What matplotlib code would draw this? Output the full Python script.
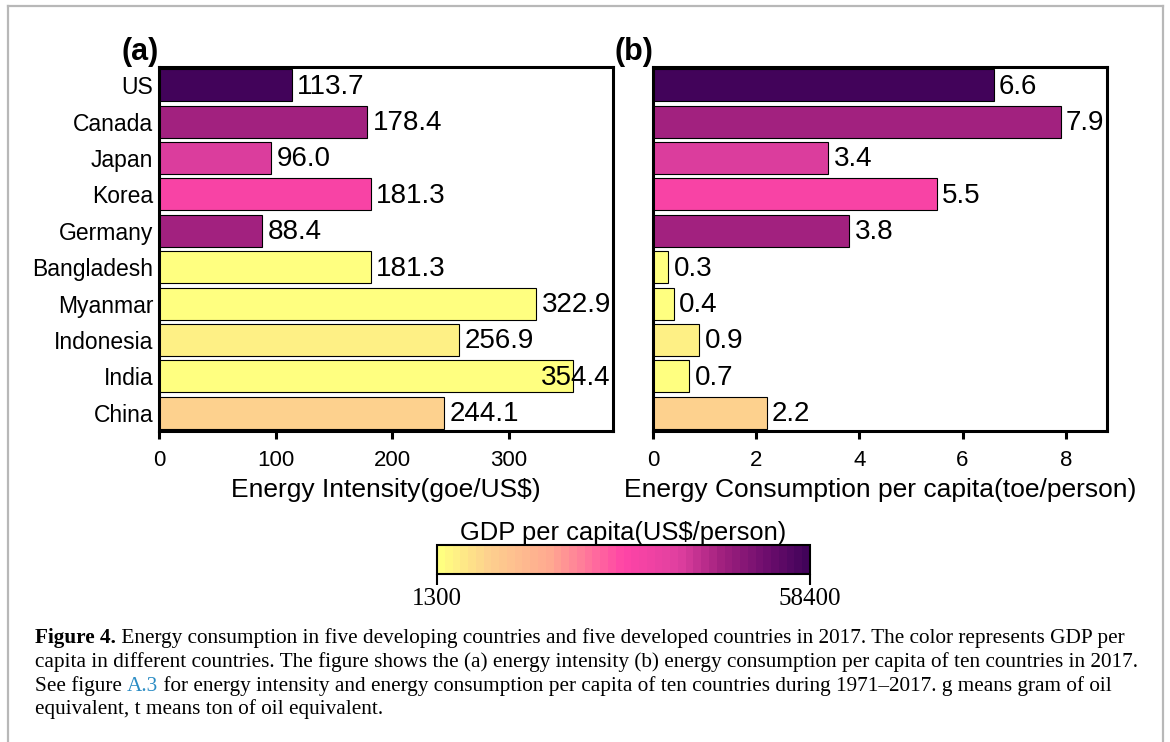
import numpy as np
import matplotlib
matplotlib.use('Agg')
import matplotlib.pyplot as plt
from matplotlib.colors import LinearSegmentedColormap, Normalize
from matplotlib.cm import ScalarMappable
from matplotlib.lines import Line2D

plt.rcParams['font.family'] = ['Liberation Sans', 'DejaVu Sans']

countries = ['US', 'Canada', 'Japan', 'Korea', 'Germany',
             'Bangladesh', 'Myanmar', 'Indonesia', 'India', 'China']
energy_intensity = [113.7, 178.4, 96.0, 181.3, 88.4, 181.3, 322.9, 256.9, 354.4, 244.1]
energy_per_capita = [6.6, 7.9, 3.4, 5.5, 3.8, 0.3, 0.4, 0.9, 0.7, 2.2]
# GDP per capita (US$/person), used for the bar colours
gdp_per_capita = [58400, 45100, 38400, 31600, 44500, 1560, 1300, 3840, 1980, 8800]
gdp_range = [1300, 58400]

cmap = LinearSegmentedColormap.from_list(
    'gdp', [(0.0, '#ffff80'), (0.13, '#fdd08e'), (0.3, '#ffa890'),
            (0.5, '#ff44a6'), (0.65, '#e040a0'), (0.77, '#a0207e'),
            (0.9, '#6a0c6c'), (1.0, '#42035a')], N=48)
norm = Normalize(gdp_range[0], gdp_range[1])
colors = cmap(norm(np.clip(gdp_per_capita, *gdp_range)))

W, H = 1170, 742
fig = plt.figure(figsize=(W / 100, H / 100), dpi=100)


def px_axes(x0, y0, x1, y1):
    return fig.add_axes([x0 / W, 1 - y1 / H, (x1 - x0) / W, (y1 - y0) / H])


ax_a = px_axes(159, 67, 613, 431)
ax_b = px_axes(653, 67, 1107, 431)

ypos = np.arange(len(countries))
for ax, vals, xmax, xticks, xlabel, tag in [
        (ax_a, energy_intensity, 389, [0, 100, 200, 300], 'Energy Intensity(goe/US$)', '(a)'),
        (ax_b, energy_per_capita, 8.8, [0, 2, 4, 6, 8], 'Energy Consumption per capita(toe/person)', '(b)')]:
    ax.barh(ypos, vals, height=0.88, color=colors, edgecolor='black', linewidth=0.8)
    for y, v in zip(ypos, vals):
        if v > 0.88 * xmax:
            # keep long labels inside the frame
            ax.annotate('%.1f' % v, xy=(xmax, y), xytext=(-2, -1), textcoords='offset points',
                        ha='right', va='center', fontsize=20)
        else:
            ax.annotate('%.1f' % v, xy=(v, y), xytext=(4, -1), textcoords='offset points',
                        ha='left', va='center', fontsize=20)
    ax.set_xlim(0, xmax)
    ax.set_ylim(len(countries) - 0.5, -0.5)
    ax.set_xticks(xticks)
    ax.set_yticks(ypos)
    ax.tick_params(axis='x', direction='out', length=6, width=2.2, labelsize=16, pad=8)
    ax.tick_params(axis='y', length=0, pad=4, labelsize=16.5)
    ax.set_xlabel(xlabel, fontsize=19, labelpad=5)
    for s in ax.spines.values():
        s.set_linewidth(2.2)
    ax.text(0, 1.0, tag, transform=ax.transAxes, ha='right', va='bottom',
            fontsize=22, fontweight='bold')

ax_a.set_yticklabels(countries)
ax_b.set_yticklabels([])

# colour bar for GDP per capita
cax = px_axes(437, 545, 810, 574)
cb = fig.colorbar(ScalarMappable(norm=norm, cmap=cmap), cax=cax, orientation='horizontal')
cb.set_ticks(gdp_range)
cb.set_ticklabels([str(v) for v in gdp_range])
cb.outline.set_linewidth(1.5)
cax.tick_params(length=8, width=1.5, pad=2)
for t in cax.get_xticklabels():
    t.set_fontfamily('Liberation Serif')
    t.set_fontsize(18)
cax.set_title('GDP per capita(US$/person)', fontsize=18.4, pad=1)

# page frame
frame = dict(color='#b8b8b8', lw=1.6, transform=fig.transFigure)
fig.add_artist(Line2D([8 / W, 1163 / W], [1 - 6 / H, 1 - 6 / H], **frame))
fig.add_artist(Line2D([8 / W, 8 / W], [0, 1 - 6 / H], **frame))
fig.add_artist(Line2D([1163 / W, 1163 / W], [0, 1 - 6 / H], **frame))

# caption
fs = 15.3
cap = dict(fontfamily='Liberation Serif', fontsize=fs, va='baseline', ha='left')
x0 = 35 / W
t1 = fig.text(x0, 1 - 643 / H, 'Figure 4.', fontweight='bold', **cap)
ax_a.annotate(' Energy consumption in five developing countries and five developed countries in 2017. '
              'The color represents GDP per', xy=(1, 0), xycoords=t1, va='bottom',
              fontfamily='Liberation Serif', fontsize=fs, annotation_clip=False)
fig.text(x0, 1 - 667 / H, 'capita in different countries. The figure shows the (a) energy intensity '
         '(b) energy consumption per capita of ten countries in 2017.', **cap)
t3 = fig.text(x0, 1 - 691 / H, 'See figure ', **cap)
t3b = ax_a.annotate('A.3', xy=(1, 0), xycoords=t3, va='bottom', color='#2b8cc4',
                    fontfamily='Liberation Serif', fontsize=fs, annotation_clip=False)
ax_a.annotate(' for energy intensity and energy consumption per capita of ten countries during '
              '1971\u20132017. g means gram of oil', xy=(1, 0), xycoords=t3b, va='bottom',
              fontfamily='Liberation Serif', fontsize=fs, annotation_clip=False)
fig.text(x0, 1 - 714 / H, 'equivalent, t means ton of oil equivalent.', **cap)

fig.savefig('out.png', dpi=100)
